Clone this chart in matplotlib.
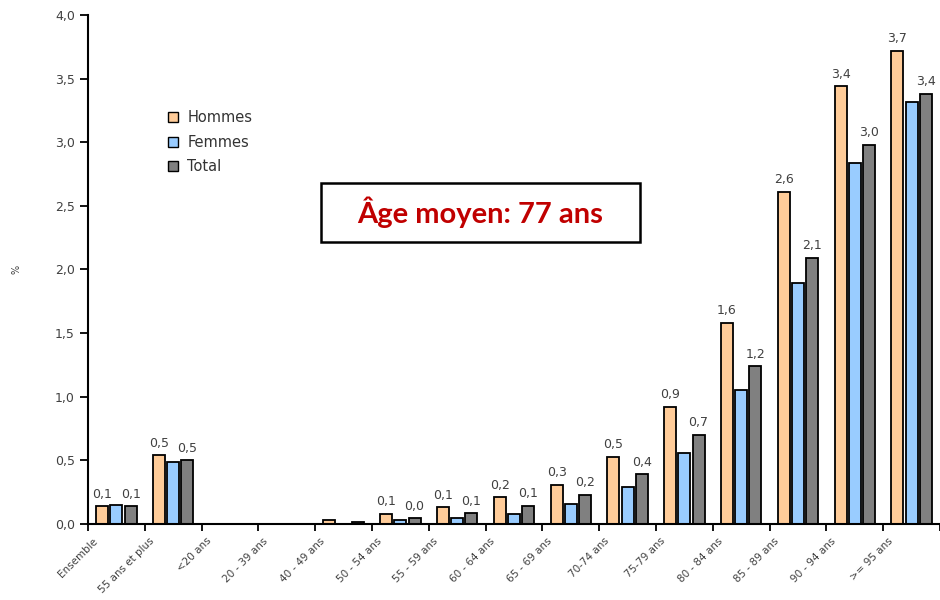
import numpy as np
import matplotlib.pyplot as plt
from matplotlib.patches import Rectangle, Patch

categories = ['Ensemble', '55 ans et plus', '<20 ans', '20 - 39 ans', '40 - 49 ans',
              '50 - 54 ans', '55 - 59 ans', '60 - 64 ans', '65 - 69 ans', '70-74 ans',
              '75-79 ans', '80 - 84 ans', '85 - 89 ans', '90 - 94 ans', '>= 95 ans']
hommes = [0.14, 0.54, 0.0, 0.0, 0.03, 0.08, 0.13, 0.21, 0.31, 0.53, 0.92, 1.58, 2.61, 3.44, 3.72]
femmes = [0.15, 0.49, 0.0, 0.0, 0.0, 0.03, 0.05, 0.08, 0.155, 0.29, 0.56, 1.05, 1.89, 2.84, 3.32]
total = [0.14, 0.50, 0.0, 0.0, 0.018, 0.045, 0.085, 0.144, 0.23, 0.39, 0.70, 1.24, 2.09, 2.98, 3.38]
# groups without value labels
no_label = {'<20 ans', '20 - 39 ans', '40 - 49 ans'}

series = [('Hommes', hommes, '#FFCC99'),
          ('Femmes', femmes, '#99CCFF'),
          ('Total', total, '#808080')]

text_col = '#404040'

fig = plt.figure(figsize=(9.4, 6), dpi=100)
ax = fig.add_axes([0.0936, 0.1267, 1.0 - 0.0936, 0.975 - 0.1267])

x = np.arange(len(categories))
offsets = [-0.25, 0.0, 0.25]
width = 0.21
for (name, vals, col), off in zip(series, offsets):
    ax.bar(x + off, vals, width, color=col, edgecolor='black', linewidth=1.3, zorder=2)

# value labels on Hommes and Total
for vals, off in ((hommes, -0.25), (total, 0.25)):
    for i, v in enumerate(vals):
        if categories[i] in no_label:
            continue
        ax.annotate(f'{v:.1f}'.replace('.', ','), (x[i] + off, v),
                    xytext=(0, 4), textcoords='offset points',
                    ha='center', va='bottom', fontsize=9, color=text_col)

ax.set_xlim(-0.5, 14.37)
ax.set_ylim(0, 4.0)

yt = np.arange(0, 4.01, 0.5)
ax.set_yticks(yt)
ax.set_yticklabels([f'{t:.1f}'.replace('.', ',') for t in yt], fontsize=9, color=text_col)

# group boundaries as major ticks, names as rotated minor labels
ax.set_xticks(np.arange(-0.5, 15, 1.0))
ax.set_xticklabels([])
ax.set_xticks(x - 0.36, minor=True)
ax.set_xticklabels(categories, minor=True, rotation=45, ha='right', va='center',
                   rotation_mode='anchor', fontsize=7.5, color=text_col)
ax.tick_params(axis='x', which='minor', length=0, pad=11)
ax.tick_params(axis='x', which='major', length=5, width=1.3, direction='out')
ax.tick_params(axis='y', length=6, width=1.3, direction='out')

for s in ('top', 'right'):
    ax.spines[s].set_visible(False)
for s in ('left', 'bottom'):
    ax.spines[s].set_linewidth(1.5)

ax.set_ylabel('%', fontsize=7, color=text_col, labelpad=24)

handles = [Patch(facecolor=c, edgecolor='black', linewidth=1.0) for _, _, c in series]
ax.legend(handles, [n for n, _, _ in series], loc='upper left',
          bbox_to_anchor=(0.165, 0.838), bbox_transform=fig.transFigure,
          frameon=False, handlelength=0.7, handleheight=0.7, handletextpad=0.6,
          labelspacing=0.65, fontsize=10.5, labelcolor='#333333')

# mean age box
fig.patches.append(Rectangle((0.3415, 0.5967), 0.3394, 0.0983, transform=fig.transFigure,
                             facecolor='white', edgecolor='black', linewidth=1.8, zorder=5))
fig.text(0.5112, 0.6458, 'Âge moyen: 77 ans', ha='center', va='center',
         fontsize=21, fontweight='bold', family='Lato', color='#C00000', zorder=6)

fig.savefig('out.png', dpi=100)
